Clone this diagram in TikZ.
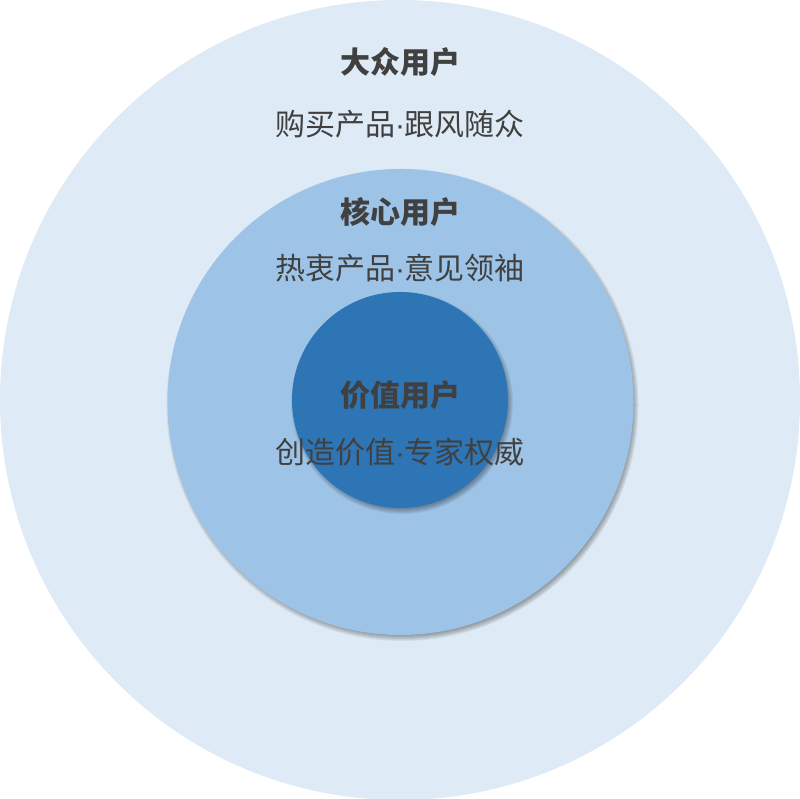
\documentclass[tikz,border=0pt]{standalone}
\usepackage{fontspec}
\setmainfont{Noto Sans CJK SC}
\newfontfamily\dotfont{Liberation Sans}
\usetikzlibrary{shadows}
\definecolor{outerblue}{HTML}{DEEAF5}
\definecolor{midblue}{HTML}{9DC3E6}
\definecolor{innerblue}{HTML}{2E75B6}
\definecolor{txtgray}{HTML}{404040}
\newcommand{\mdot}{{\dotfont ·}}
\begin{document}
\begin{tikzpicture}[line cap=round,line join=round,x=1pt,y=1pt,
  title/.style={text=txtgray,font=\fontsize{30}{34}\selectfont\bfseries},
  sub/.style={text=txtgray,font=\fontsize{30}{34}\selectfont},
  softshadow/.style={black,opacity=0.06}]
\useasboundingbox (0,0) rectangle (800,799);
% rings
\fill[outerblue] (400,399) circle (400);
\foreach \s in {-3,...,3}
  \fill[softshadow] (402.5,394) circle (233+\s);
\fill[midblue] (400.5,397) circle (233);
\foreach \s in {-3,...,3}
  \fill[softshadow] (402,396) circle (108+\s);
\fill[innerblue] (400,399) circle (108);
% labels
\node[title] (massT) at (400,737) {大众用户};
\node[sub] (massS) at (400,675) {购买产品\mdot 跟风随众};
\node[title] (coreT) at (400,587) {核心用户};
\node[sub] (coreS) at (400,531) {热衷产品\mdot 意见领袖};
\node[title] (valueT) at (400,404) {价值用户};
\node[sub] (valueS) at (400,347) {创造价值\mdot 专家权威};
\end{tikzpicture}
\end{document}
